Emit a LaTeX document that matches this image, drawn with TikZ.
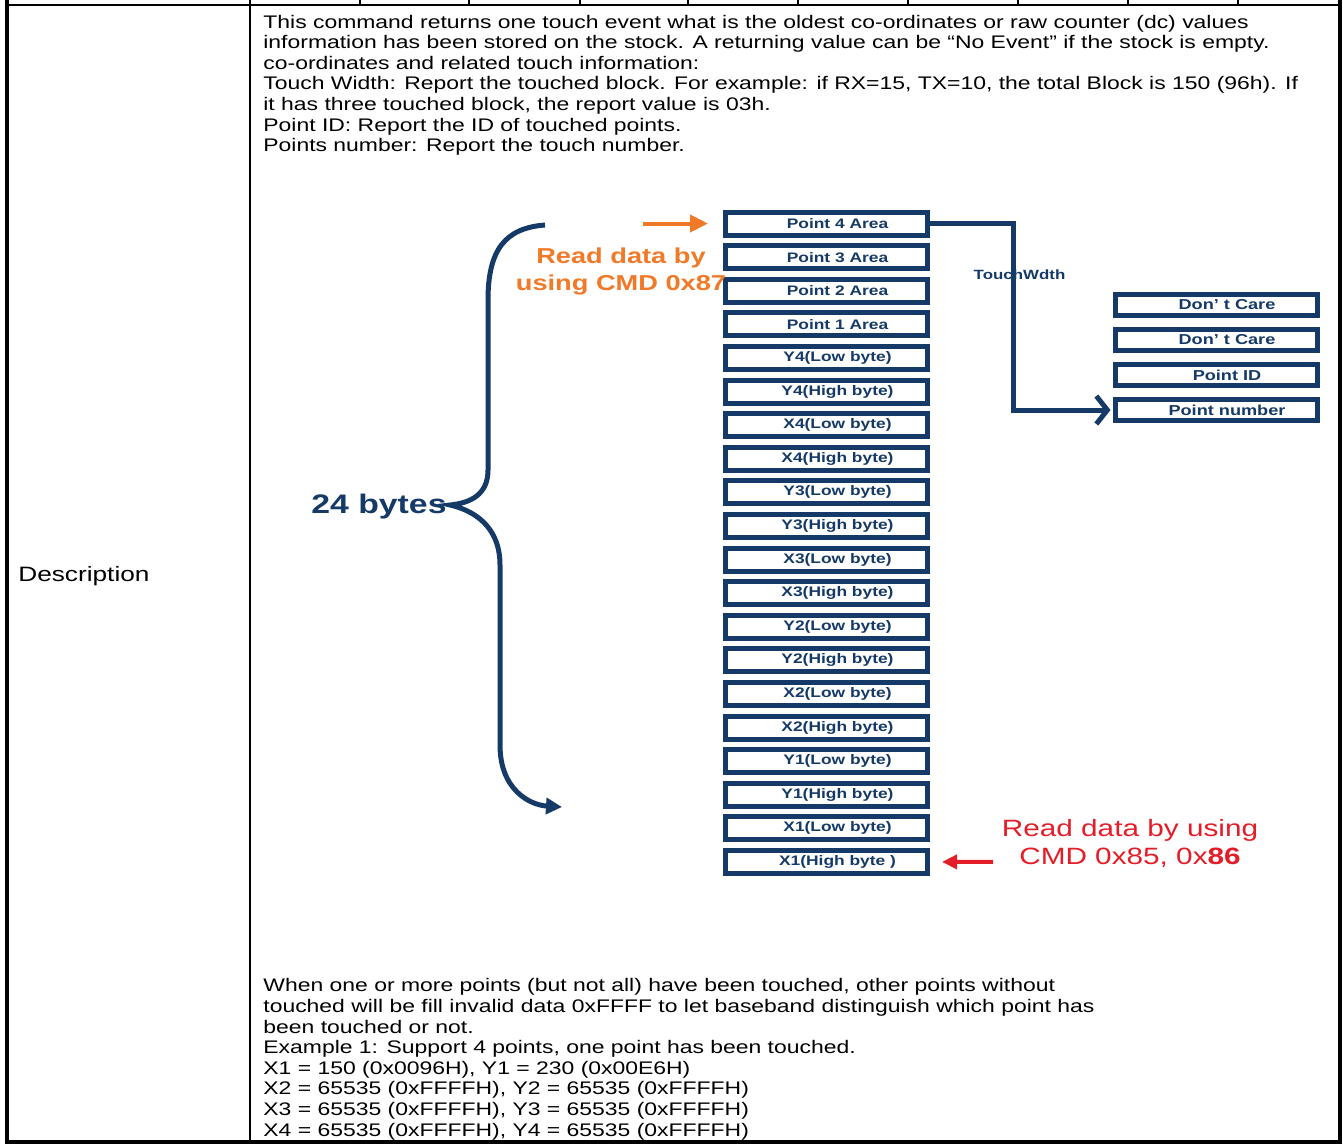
\documentclass[tikz,border=0pt]{standalone}
\usepackage{fontspec}
\setmainfont{Liberation Sans}[FakeStretch=1.26]
\usetikzlibrary{arrows.meta}

\definecolor{navy}{RGB}{22,58,104}
\definecolor{orng}{RGB}{240,122,40}
\definecolor{rd}{RGB}{228,30,40}

\begin{document}
\begin{tikzpicture}[x=0.5pt,y=-0.5pt,node distance=16.8pt,
	txt/.style = {anchor=base west, inner sep=0pt, font=\fontsize{9.1}{10.3}\selectfont},
	byte box/.style = {rectangle, draw=navy, fill=white, line width=2.5pt, minimum width=101pt,
		minimum height=11.5pt, inner sep=0pt, text=navy, font=\bfseries\fontsize{6.9}{8}\selectfont,
		execute at begin node={\hspace*{11pt}}},
	flag box/.style = {byte box, minimum height=10.5pt, font=\bfseries\fontsize{7.2}{8}\selectfont},
	link/.style = {draw=navy, line width=2.5pt, -{Straight Barb[length=5.5pt,width=14pt]}, shorten >=1pt},
	thin rule/.style = {line width=1pt},
	thick rule/.style = {line width=2.25pt}]

	\useasboundingbox (0,0) rectangle (1343,1147);

	% table frame
	\draw[thick rule] (7,0) -- (7,1142) -- (1340,1142) -- (1340,0);
	\draw[thin rule] (7,5) -- (1340,5);
	\draw[thin rule] (249.5,0) -- (249.5,1142);
	\foreach \x in {359.5,469,579.5,688,798,908,1017.5,1127.5,1237.7}
		\draw[thin rule] (\x,0) -- (\x,5);

	\node[txt, font=\fontsize{10.4}{12}\selectfont] (desc) at (18,581) {Description};

	% text above the figure
	\node[txt] (t1) at (263,28) {This command returns one touch event what is the oldest co-ordinates or raw counter (dc) values};
	\node[txt] (t2) at (263,48.6) {information has been stored on the stock. A returning value can be “No Event” if the stock is empty.};
	\node[txt] (t3) at (263,69.2) {co-ordinates and related touch information:};
	\node[txt] (t4) at (263,89.8) {Touch Width: Report the touched block. For example: if RX=15, TX=10, the total Block is 150 (96h). If};
	\node[txt] (t5) at (263,110.4) {it has three touched block, the report value is 03h.};
	\node[txt] (t6) at (263,131) {Point ID: Report the ID of touched points.};
	\node[txt] (t7) at (263,151.6) {Points number: Report the touch number.};

	% byte stack
	\node[byte box] (1) at (826.5,223.5) {Point 4 Area};
	\node[byte box] [below of = 1] (2) {Point 3 Area};
	\node[byte box] [below of = 2] (3) {Point 2 Area};
	\node[byte box] [below of = 3] (4) {Point 1 Area};
	\node[byte box] [below of = 4] (5) {Y4(Low byte)};
	\node[byte box] [below of = 5] (6) {Y4(High byte)};
	\node[byte box] [below of = 6] (7) {X4(Low byte)};
	\node[byte box] [below of = 7] (8) {X4(High byte)};
	\node[byte box] [below of = 8] (9) {Y3(Low byte)};
	\node[byte box] [below of = 9] (10) {Y3(High byte)};
	\node[byte box] [below of = 10] (11) {X3(Low byte)};
	\node[byte box] [below of = 11] (12) {X3(High byte)};
	\node[byte box] [below of = 12] (13) {Y2(Low byte)};
	\node[byte box] [below of = 13] (14) {Y2(High byte)};
	\node[byte box] [below of = 14] (15) {X2(Low byte)};
	\node[byte box] [below of = 15] (16) {X2(High byte)};
	\node[byte box] [below of = 16] (17) {Y1(Low byte)};
	\node[byte box] [below of = 17] (18) {Y1(High byte)};
	\node[byte box] [below of = 18] (19) {X1(Low byte)};
	\node[byte box] [below of = 19] (20) {X1(High byte )};

	% touch width bits
	\node[flag box] (r1) at (1216,305) {Don’ t Care};
	\node[flag box] [below of = r1, node distance=17.5pt] (r2) {Don’ t Care};
	\node[flag box] [below of = r2, node distance=17.5pt] (r3) {Point ID};
	\node[flag box] [below of = r3, node distance=17.5pt] (r4) {Point number};

	\node[text=navy, font=\bfseries\fontsize{6.7}{8}\selectfont] (tw) at (1019.5,275) {TouchWdth};
	\coordinate (bend) at (1013,0);
	\draw[link] (1.east) -- (1.east -| bend) |- (r4.west);

	% 24 bytes brace
	\node[text=navy, font=\bfseries\fontsize{13.4}{16}\selectfont] (nb) at (379,507) {24 bytes};
	\draw[navy, line width=2.5pt, -{Triangle[length=8pt,width=8pt]}]
		(545,225) .. controls (505,228) and (488,250) .. (488,300) -- (488,470)
		.. controls (488,495) and (470,503) .. (450,505)
		.. controls (472,510) and (500,525) .. (500,565) -- (500,745)
		.. controls (500,790) and (530,805) .. (562,807);

	% read commands
	\node[text=orng, align=center, font=\bfseries\fontsize{10.8}{13.5}\selectfont] (o87) at (621,271) {Read data by\\using CMD 0x87};
	\coordinate (oa) at (643,223.5);
	\draw[orng, line width=2pt, -{Triangle[length=9pt,width=8.5pt]}, shorten >=7.5pt] (oa) -- (1.west);

	\node[text=rd, align=center, font=\fontsize{11.8}{14}\selectfont] (r86) at (1130,843) {Read data by using\\CMD 0x85, 0x{\bfseries 86}};
	\coordinate (ra) at (993,861.9);
	\draw[rd, line width=2pt, -{Triangle[length=7.5pt,width=7pt]}, shorten >=6pt] (ra) -- (20.east);

	% text below the figure
	\node[txt] (b1) at (263,991.8) {When one or more points (but not all) have been touched, other points without};
	\node[txt] (b2) at (263,1012.4) {touched will be fill invalid data 0xFFFF to let baseband distinguish which point has};
	\node[txt] (b3) at (263,1033) {been touched or not.};
	\node[txt] (b4) at (263,1053.6) {Example 1: Support 4 points, one point has been touched.};
	\node[txt] (b5) at (263,1074.2) {X1 = 150 (0x0096H), Y1 = 230 (0x00E6H)};
	\node[txt] (b6) at (263,1094.8) {X2 = 65535 (0xFFFFH), Y2 = 65535 (0xFFFFH)};
	\node[txt] (b7) at (263,1115.4) {X3 = 65535 (0xFFFFH), Y3 = 65535 (0xFFFFH)};
	\node[txt] (b8) at (263,1136) {X4 = 65535 (0xFFFFH), Y4 = 65535 (0xFFFFH)};
\end{tikzpicture}
\end{document}
